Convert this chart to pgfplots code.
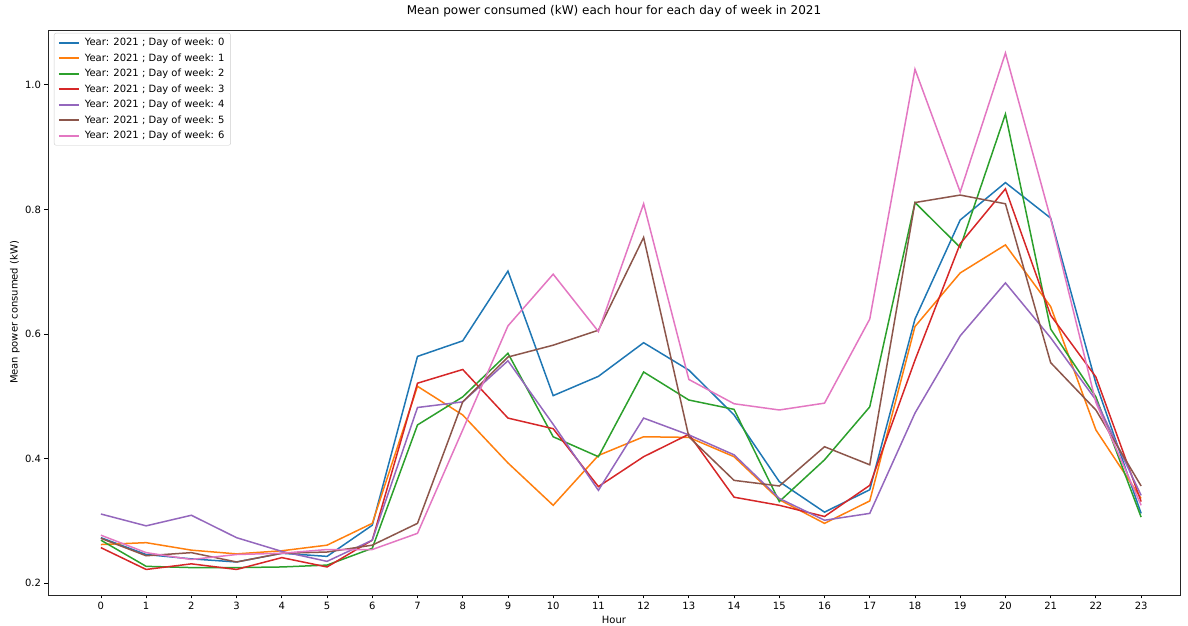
\documentclass[border=0pt]{standalone}
\usepackage{fontspec}
\setmainfont{DejaVu Sans}
\usepackage{pgfplots}
\usepackage{pgfplotstable}
\pgfplotsset{compat=1.18}
\definecolor{c0}{HTML}{1F77B4}
\definecolor{c1}{HTML}{FF7F0E}
\definecolor{c2}{HTML}{2CA02C}
\definecolor{c3}{HTML}{D62728}
\definecolor{c4}{HTML}{9467BD}
\definecolor{c5}{HTML}{8C564B}
\definecolor{c6}{HTML}{E377C2}
\pgfplotstableread{
h d0 d1 d2 d3 d4 d5 d6
0 0.273 0.262 0.269 0.257 0.311 0.272 0.277
1 0.246 0.265 0.227 0.222 0.292 0.244 0.249
2 0.239 0.253 0.225 0.231 0.309 0.249 0.238
3 0.234 0.247 0.225 0.222 0.273 0.234 0.246
4 0.248 0.252 0.226 0.241 0.251 0.248 0.248
5 0.243 0.261 0.229 0.226 0.235 0.250 0.254
6 0.293 0.296 0.256 0.269 0.269 0.261 0.254
7 0.564 0.516 0.454 0.521 0.482 0.296 0.280
8 0.589 0.470 0.499 0.543 0.491 0.491 0.446
9 0.701 0.393 0.569 0.465 0.557 0.563 0.613
10 0.501 0.325 0.435 0.448 0.455 0.582 0.696
11 0.532 0.405 0.403 0.355 0.349 0.606 0.604
12 0.586 0.435 0.539 0.403 0.465 0.755 0.809
13 0.542 0.434 0.494 0.439 0.438 0.435 0.527
14 0.470 0.403 0.479 0.338 0.406 0.365 0.488
15 0.363 0.334 0.331 0.325 0.336 0.356 0.478
16 0.314 0.296 0.398 0.307 0.301 0.419 0.489
17 0.350 0.332 0.483 0.357 0.312 0.390 0.624
18 0.624 0.612 0.811 0.558 0.473 0.811 1.025
19 0.783 0.698 0.739 0.745 0.597 0.823 0.828
20 0.843 0.743 0.953 0.833 0.682 0.809 1.051
21 0.786 0.644 0.608 0.630 0.594 0.554 0.785
22 0.521 0.446 0.499 0.531 0.494 0.478 0.490
23 0.312 0.336 0.306 0.331 0.341 0.356 0.325
}\data
\begin{document}
\begin{tikzpicture}
\useasboundingbox (-48pt,-31pt) rectangle (1140pt,595pt);
\begin{axis}[
  at={(0pt,0pt)}, anchor=south west,
  scale only axis, width=1132pt, height=565pt,
  xmin=-1.17, xmax=23.86, ymin=0.181, ymax=1.088,
  xtick={0,1,...,23}, ytick={0.2,0.4,0.6,0.8,1.0},
  xtick pos=bottom, ytick pos=left,
  tick align=outside, major tick length=3.5pt,
  every tick/.style={black, line width=0.8pt},
  axis line style={black!85, line width=0.8pt},
  /pgf/number format/assume math mode=true,
  tick label style={font=\fontsize{10}{12}\selectfont},
  yticklabel style={/pgf/number format/.cd, fixed, fixed zerofill, precision=1},
  xticklabel style={/pgf/number format/.cd, fixed, precision=0},
  title={Mean power consumed (kW) each hour for each day of week in 2021},
  title style={at={(axis description cs:0.5,1.023)}, anchor=center, font=\fontsize{12}{14}\selectfont},
  xlabel={Hour},
  xlabel style={at={(axis description cs:0.5,-0.0443)}, anchor=center, font=\fontsize{10}{12}\selectfont},
  ylabel={Mean power consumed (kW)},
  ylabel style={at={(axis description cs:-0.0292,0.5)}, anchor=center, rotate=0, font=\fontsize{10}{12}\selectfont},
  legend cell align=left,
  legend style={at={(axis description cs:0.0053,0.9947)}, anchor=north west,
    draw=black!20, rounded corners=2pt, fill=white,
    font=\fontsize{10}{12}\selectfont, inner xsep=4pt, inner ysep=3pt, row sep=2.4pt, column sep=3pt},
  legend image code/.code={\draw[#1, line width=1.6pt] (0pt,0pt) -- (20pt,0pt);},
]
\addplot[color=c0, line width=1.5pt, no markers] table[x=h,y=d0]{\data};
\addlegendentry{Year: 2021 ; Day of week: 0}
\addplot[color=c1, line width=1.5pt, no markers] table[x=h,y=d1]{\data};
\addlegendentry{Year: 2021 ; Day of week: 1}
\addplot[color=c2, line width=1.5pt, no markers] table[x=h,y=d2]{\data};
\addlegendentry{Year: 2021 ; Day of week: 2}
\addplot[color=c3, line width=1.5pt, no markers] table[x=h,y=d3]{\data};
\addlegendentry{Year: 2021 ; Day of week: 3}
\addplot[color=c4, line width=1.5pt, no markers] table[x=h,y=d4]{\data};
\addlegendentry{Year: 2021 ; Day of week: 4}
\addplot[color=c5, line width=1.5pt, no markers] table[x=h,y=d5]{\data};
\addlegendentry{Year: 2021 ; Day of week: 5}
\addplot[color=c6, line width=1.5pt, no markers] table[x=h,y=d6]{\data};
\addlegendentry{Year: 2021 ; Day of week: 6}
\end{axis}
\end{tikzpicture}
\end{document}
